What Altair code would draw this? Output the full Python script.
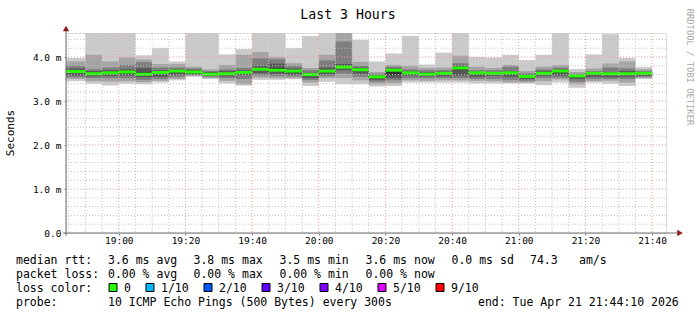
import altair as alt
import pandas as pd

FONT = "DejaVu Sans Mono"

title_text = "Last 3 Hours"
y_title = "Seconds"
side_text = "RRDTOOL / TOBI OETIKER"

graph_start = "18:44:10"
graph_end = "21:44:10"

# end time of each 5-minute smoke column
bar_end = ["18:50", "18:55", "19:00", "19:05", "19:10", "19:15", "19:20",
           "19:25", "19:30", "19:35", "19:40", "19:45", "19:50", "19:55",
           "20:00", "20:05", "20:10", "20:15", "20:20", "20:25", "20:30",
           "20:35", "20:40", "20:45", "20:50", "20:55", "21:00", "21:05",
           "21:10", "21:15", "21:20", "21:25", "21:30", "21:35", "21:40"]

# sorted ping round trip times (ms), p1 = fastest ... p10 = slowest
p1 = [3.45, 3.39, 3.35, 3.39, 3.38, 3.42, 3.47, 3.55, 3.50, 3.40, 3.35, 3.48, 3.48, 3.50, 3.34, 3.44, 3.38, 3.38,
      3.33, 3.34, 3.42, 3.42, 3.42, 3.42, 3.40, 3.40, 3.40, 3.40, 3.36, 3.42, 3.30, 3.42, 3.39, 3.34, 3.50]
p2 = [3.50, 3.45, 3.44, 3.45, 3.43, 3.46, 3.50, 3.57, 3.52, 3.46, 3.38, 3.53, 3.52, 3.52, 3.42, 3.52, 3.52, 3.47,
      3.38, 3.40, 3.47, 3.46, 3.47, 3.47, 3.46, 3.45, 3.42, 3.42, 3.45, 3.49, 3.38, 3.45, 3.46, 3.42, 3.52]
p3 = [3.54, 3.52, 3.52, 3.52, 3.48, 3.50, 3.55, 3.59, 3.55, 3.52, 3.50, 3.58, 3.57, 3.56, 3.48, 3.56, 3.62, 3.55,
      3.44, 3.47, 3.52, 3.52, 3.52, 3.52, 3.50, 3.50, 3.48, 3.46, 3.52, 3.53, 3.44, 3.50, 3.50, 3.50, 3.55]
p4 = [3.58, 3.56, 3.57, 3.58, 3.54, 3.55, 3.60, 3.61, 3.57, 3.56, 3.59, 3.63, 3.62, 3.60, 3.52, 3.61, 3.70, 3.62,
      3.48, 3.52, 3.58, 3.56, 3.56, 3.58, 3.55, 3.57, 3.55, 3.50, 3.57, 3.58, 3.50, 3.55, 3.54, 3.55, 3.57]
p5 = [3.64, 3.60, 3.62, 3.63, 3.60, 3.62, 3.65, 3.64, 3.60, 3.60, 3.63, 3.69, 3.68, 3.64, 3.57, 3.65, 3.76, 3.68,
      3.52, 3.60, 3.62, 3.59, 3.61, 3.70, 3.61, 3.61, 3.62, 3.54, 3.61, 3.64, 3.54, 3.60, 3.59, 3.60, 3.60]
p6 = [3.70, 3.64, 3.66, 3.68, 3.66, 3.66, 3.69, 3.68, 3.63, 3.64, 3.67, 3.75, 3.75, 3.70, 3.61, 3.71, 3.80, 3.73,
      3.56, 3.72, 3.66, 3.63, 3.65, 3.77, 3.64, 3.64, 3.65, 3.57, 3.65, 3.69, 3.57, 3.64, 3.63, 3.64, 3.64]
p7 = [3.74, 3.68, 3.70, 3.72, 3.75, 3.70, 3.72, 3.71, 3.66, 3.68, 3.70, 3.80, 3.85, 3.74, 3.64, 3.76, 3.84, 3.76,
      3.59, 3.74, 3.68, 3.66, 3.67, 3.80, 3.66, 3.66, 3.68, 3.60, 3.68, 3.72, 3.59, 3.66, 3.66, 3.68, 3.66]
p8 = [3.80, 3.72, 3.76, 3.82, 3.88, 3.76, 3.76, 3.74, 3.68, 3.72, 3.75, 3.97, 3.95, 3.80, 3.70, 3.92, 4.35, 3.80,
      3.62, 3.78, 3.72, 3.70, 3.70, 3.86, 3.70, 3.70, 3.78, 3.63, 3.72, 3.76, 3.62, 3.68, 3.76, 3.74, 3.68]
p9 = [3.90, 4.05, 3.90, 3.99, 3.94, 3.84, 3.84, 3.78, 3.72, 3.82, 4.05, 4.11, 4.00, 3.86, 3.75, 4.05, 4.60, 3.89,
      3.66, 3.82, 3.80, 3.75, 3.76, 4.03, 3.78, 3.75, 3.82, 3.68, 3.78, 3.82, 3.66, 3.74, 3.85, 3.90, 3.72]
p10 = [3.98, 4.60, 4.60, 4.60, 4.04, 4.20, 3.90, 4.60, 4.60, 4.06, 4.18, 4.60, 4.60, 4.20, 4.48, 4.60, 4.60, 4.39,
       3.90, 4.08, 4.48, 3.83, 4.10, 4.60, 4.00, 3.99, 4.05, 3.93, 4.05, 4.60, 3.73, 4.06, 4.52, 3.98, 3.77]
median = [3.67, 3.62, 3.64, 3.66, 3.61, 3.65, 3.68, 3.66, 3.61, 3.62, 3.65, 3.72, 3.70, 3.68, 3.60, 3.68, 3.77, 3.71,
          3.55, 3.70, 3.64, 3.61, 3.63, 3.75, 3.64, 3.63, 3.64, 3.56, 3.63, 3.68, 3.57, 3.63, 3.62, 3.62, 3.63]

x_tick_labels = ["19:00", "19:20", "19:40", "20:00", "20:20", "20:40", "21:00", "21:20", "21:40"]
y_tick_values = [0, 1, 2, 3, 4]

rtt_stats = ["3.6 ms avg", "3.8 ms max", "3.5 ms min", "3.6 ms now", "0.0 ms sd", "74.3", "am/s"]
loss_stats = ["0.00 % avg", "0.00 % max", "0.00 % min", "0.00 % now"]
loss_labels = ["0", "1/10", "2/10", "3/10", "4/10", "5/10", "9/10"]
loss_colors = ["#26ff00", "#00b8ff", "#0059ff", "#5e00ff", "#7e00ff", "#dd00ff", "#ff0000"]
probe_text = "10 ICMP Echo Pings (500 Bytes) every 300s"
end_text = "end: Tue Apr 21 21:44:10 2026"

smoke_colors = ["#cacaca", "#a4a4a4", "#7e7e7e", "#585858", "#323232"]


def mins(t):
    parts = [int(v) for v in t.split(":")]
    while len(parts) < 3:
        parts.append(0)
    return (parts[0] - 18) * 60 + parts[1] + parts[2] / 60.0


x_lo = mins(graph_start)
x_hi = mins(graph_end)
ends = [mins(t) for t in bar_end]
starts = [x_lo] + ends[:-1]

pings = [p1, p2, p3, p4, p5, p6, p7, p8, p9, p10]
rows = []
for layer in range(5):
    lo_list = pings[layer]
    hi_list = pings[9 - layer]
    for i in range(len(ends)):
        rows.append({"x0": starts[i], "x1": ends[i], "lo": lo_list[i], "hi": hi_list[i],
                     "layer": f"L{layer + 1}", "ord": layer})
smoke_df = pd.DataFrame(rows)
med_df = pd.DataFrame({"x0": starts, "x1": ends, "median": median})

xscale = alt.Scale(domain=[x_lo, x_hi], nice=False, zero=False)
yscale = alt.Scale(domain=[0, 200 / 44.0], nice=False, zero=True)

NBSP = "\u00a0"
x_axis = alt.Axis(values=[mins(t) for t in x_tick_labels],
                  labelExpr="(floor(datum.value/60)+18) + ':' + (datum.value%60==0 ? '00' : '' + datum.value%60)",
                  domain=False, grid=False, ticks=True, tickSize=2, tickColor="#888888",
                  labelFont=FONT, labelFontSize=9.5, labelColor="#000000", labelPadding=0,
                  labelBaseline="top", title=None)
y_axis = alt.Axis(values=y_tick_values,
                  labelExpr=f"datum.value==0 ? '0.0{NBSP}{NBSP}' : format(datum.value,'.1f') + ' m'",
                  domain=False, grid=False, ticks=True, tickSize=2, tickColor="#888888",
                  labelFont=FONT, labelFontSize=9.5, labelColor="#000000", labelPadding=3,
                  title=None)

smoke = alt.Chart(smoke_df).mark_rect(clip=True).encode(
    x=alt.X("x0:Q", scale=xscale, axis=x_axis),
    x2="x1:Q",
    y=alt.Y("lo:Q", scale=yscale, axis=y_axis),
    y2="hi:Q",
    color=alt.Color("layer:N", scale=alt.Scale(domain=["L1", "L2", "L3", "L4", "L5"], range=smoke_colors),
                    legend=None),
    order=alt.Order("ord:Q"),
)

med = alt.Chart(med_df).mark_rule(color="#26ff00", strokeWidth=3, clip=True).encode(
    x="x0:Q", x2="x1:Q", y="median:Q")

minor_x = [m for m in range(45, 222, 5) if m % 20 != 0]
major_x = [mins(t) for t in x_tick_labels]
minor_y = [round(v * 0.2, 1) for v in range(1, 23) if v % 5 != 0]
major_y = [1, 2, 3, 4]

grid_minor_x = alt.Chart(pd.DataFrame({"v": minor_x})).mark_rule(
    color="#c4c4c4", strokeWidth=1, strokeDash=[1, 2]).encode(x="v:Q")
grid_minor_y = alt.Chart(pd.DataFrame({"v": minor_y})).mark_rule(
    color="#c4c4c4", strokeWidth=1, strokeDash=[1, 2]).encode(y="v:Q")
grid_major_x = alt.Chart(pd.DataFrame({"v": major_x})).mark_rule(
    color="#f29a9a", strokeWidth=1, strokeDash=[1, 2]).encode(x="v:Q")
grid_major_y = alt.Chart(pd.DataFrame({"v": major_y})).mark_rule(
    color="#f29a9a", strokeWidth=1, strokeDash=[1, 2]).encode(y="v:Q")

AXIS_COLOR = "#707070"
ARROW_COLOR = "#8b1a1a"
one = pd.DataFrame({"a": [0]})
y_axis_line = alt.Chart(one).mark_rule(color=AXIS_COLOR, strokeWidth=1).encode(
    x=alt.value(0), y=alt.value(-3), y2=alt.value(203))
x_axis_line = alt.Chart(one).mark_rule(color=AXIS_COLOR, strokeWidth=1).encode(
    y=alt.value(200), x=alt.value(-3), x2=alt.value(611))
arrow_up = alt.Chart(one).mark_point(shape="triangle-up", filled=True, color=ARROW_COLOR, size=40,
                                     opacity=1).encode(x=alt.value(0), y=alt.value(-4.5))
arrow_right = alt.Chart(one).mark_point(shape="triangle-right", filled=True, color=ARROW_COLOR, size=40,
                                        opacity=1).encode(x=alt.value(614), y=alt.value(200))

OX, OY = 66, 33


def txt(s, x, y, size=11.5, color="#000000", align="left", baseline="alphabetic", angle=0):
    return alt.Chart(pd.DataFrame({"t": [s]})).mark_text(
        align=align, baseline=baseline, font=FONT, fontSize=size, color=color, angle=angle
    ).encode(x=alt.value(x - OX), y=alt.value(y - OY), text="t:N")


texts = []
texts.append(txt(title_text, 348, 19, size=13.2, align="center"))
texts.append(txt(y_title, 14, 133, size=11, align="center", angle=270))
texts.append(txt(side_text, 687, 67, size=8.8, color="#a8a8a8", align="center", angle=90))

row_y = [263.5, 277.5, 291.5, 305.5]
col_x = [108, 193.5, 279.5, 365.5, 451.5, 530, 579]
texts.append(txt("median rtt:", 16, row_y[0]))
for s, x in zip(rtt_stats, col_x):
    texts.append(txt(s, x, row_y[0]))
texts.append(txt("packet loss:", 16, row_y[1]))
for s, x in zip(loss_stats, col_x):
    texts.append(txt(s, x, row_y[1]))
texts.append(txt("loss color:", 16, row_y[2]))
box_x = [113, 150, 208, 266, 324, 382, 440]
for lab, col, bx in zip(loss_labels, loss_colors, box_x):
    texts.append(alt.Chart(pd.DataFrame({"c": [col]})).mark_point(
        shape="square", filled=True, size=64, stroke="#000000", strokeWidth=1, opacity=1
    ).encode(x=alt.value(bx - OX), y=alt.value(row_y[2] - 4 - OY),
             fill=alt.Fill("c:N", scale=None), color=alt.value("#000000")))
    texts.append(txt(lab, bx + 11, row_y[2]))
texts.append(txt("probe:", 16, row_y[3]))
texts.append(txt(probe_text, 108, row_y[3]))
texts.append(txt(end_text, 478, row_y[3]))

chart = alt.layer(
    smoke, med, grid_minor_x, grid_minor_y, grid_major_x, grid_major_y,
    y_axis_line, x_axis_line, arrow_up, arrow_right, *texts
).properties(
    width=600, height=200,
    autosize=alt.AutoSizeParams(type="none"),
    padding={"left": OX, "top": OY, "right": 31, "bottom": 82},
).configure_view(stroke=None).configure(background="#ffffff")

chart.save("out.html", embed_options={"renderer": "svg", "actions": False})
